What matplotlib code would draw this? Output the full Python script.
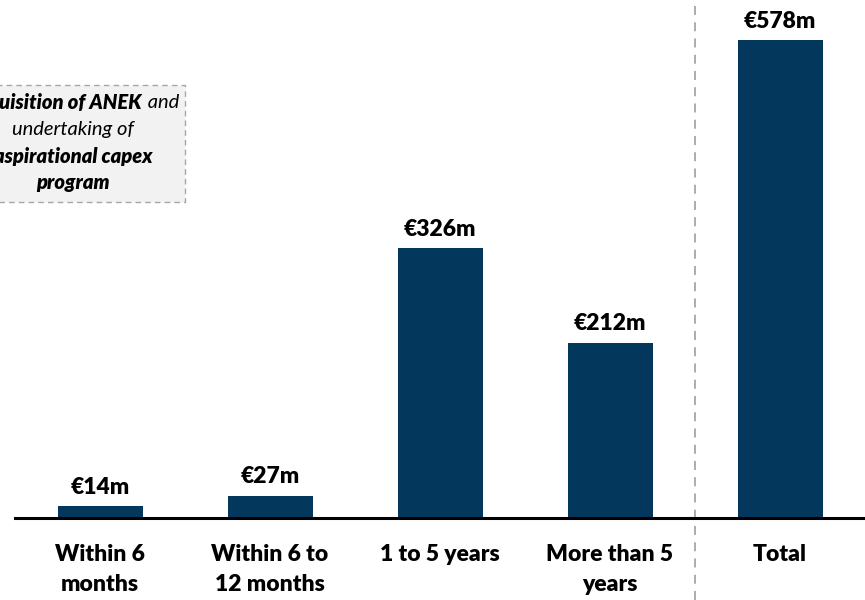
import matplotlib
matplotlib.use("Agg")
import matplotlib.pyplot as plt
from matplotlib.patches import FancyBboxPatch
from matplotlib.transforms import blended_transform_factory

categories = ["Within 6\nmonths", "Within 6 to\n12 months", "1 to 5 years", "More than 5\nyears", "Total"]
values = [14, 27, 326, 212, 578]
value_labels = ["€14m", "€27m", "€326m", "€212m", "€578m"]

BAR_COLOR = "#03375c"
FONT = "Lato"

fig = plt.figure(figsize=(8.65, 6.0), dpi=100)
ax = fig.add_axes([15 / 865, 82 / 600, 850 / 865, 518 / 600])

x = list(range(len(values)))
ax.bar(x, values, width=0.5, color=BAR_COLOR, zorder=2)
ax.set_xlim(-0.5, 4.5)
ax.set_ylim(0, 578 * 518 / 478)

for xi, v, lab in zip(x, values, value_labels):
    ax.annotate(lab, (xi, v), xytext=(0, 6), textcoords="offset points",
                ha="center", va="bottom", fontsize=16.5, fontweight="heavy",
                family=FONT, color="black")

for s in ["top", "right", "left"]:
    ax.spines[s].set_visible(False)
ax.spines["bottom"].set_linewidth(2.2)
ax.spines["bottom"].set_color("black")
ax.set_yticks([])
ax.set_xticks(x)
ax.set_xticklabels(categories, fontsize=16.5, fontweight="heavy", family=FONT,
                   linespacing=1.5)
ax.tick_params(axis="x", length=0, pad=19)
for t in ax.get_xticklabels():
    t.set_verticalalignment("top")

# separator before the total column
trans = blended_transform_factory(ax.transData, ax.transAxes)
ax.plot([3.5, 3.5], [-82 / 518, 1.0], transform=trans, clip_on=False,
        color="#a6a6a6", lw=1.3, ls=(0, (5, 4)), zorder=1)

# note box on the left
box = FancyBboxPatch((-40 / 865, 398 / 600), 225 / 865, 117 / 600,
                     boxstyle="square,pad=0", transform=fig.transFigure,
                     facecolor="#f2f2f2", edgecolor="#a6a6a6", lw=1.0,
                     ls=(0, (4, 3)))
fig.add_artist(box)

cx = 73 / 865
fs = 14.5
# first line mixes bold italic and plain italic
renderer = fig.canvas.get_renderer()
t1 = fig.text(0, 1 - 103 / 600, "Acquisition of ANEK", ha="right", va="center",
              fontsize=fs, style="italic", fontweight="heavy", family=FONT)
t2 = fig.text(0, 1 - 103 / 600, " and", ha="left", va="center",
              fontsize=fs, style="italic", family=FONT)
w1 = t1.get_window_extent(renderer).width / fig.bbox.width
w2 = t2.get_window_extent(renderer).width / fig.bbox.width
split = cx - (w1 + w2) / 2 + w1
t1.set_x(split)
t2.set_x(split)

fig.text(cx, 1 - 129 / 600, "undertaking of", ha="center", va="center",
         fontsize=fs, style="italic", family=FONT)
fig.text(cx, 1 - 156 / 600, "aspirational capex", ha="center", va="center",
         fontsize=fs, style="italic", fontweight="heavy", family=FONT)
fig.text(cx, 1 - 182 / 600, "program", ha="center", va="center",
         fontsize=fs, style="italic", fontweight="heavy", family=FONT)

fig.savefig("out.png", dpi=100)
